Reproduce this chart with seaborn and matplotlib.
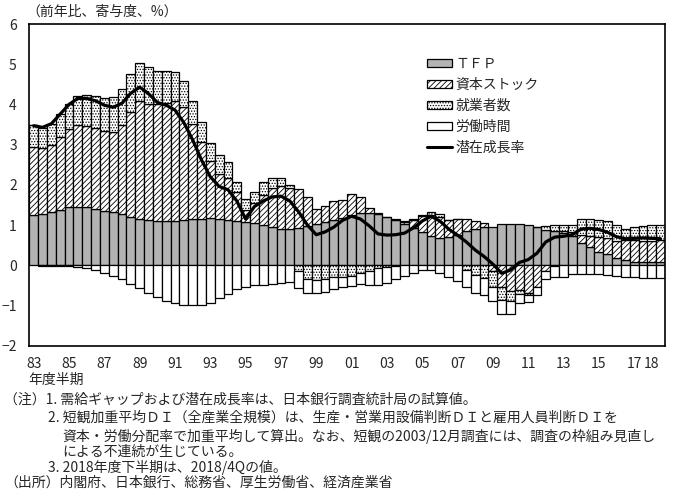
import seaborn as sns
import matplotlib.pyplot as plt
from matplotlib.patches import Patch
from matplotlib.lines import Line2D
import numpy as np

sns.set_style("white")
plt.rcParams['font.family'] = ['Noto Sans CJK JP', 'DejaVu Sans']
plt.rcParams['hatch.linewidth'] = 0.6
plt.rcParams['hatch.color'] = '#333333'

# 年度半期 1983上 ～ 2018下 (72本)
tfp = [1.24, 1.28, 1.32, 1.38, 1.44, 1.46, 1.44, 1.40, 1.36, 1.32, 1.28, 1.21,
       1.15, 1.12, 1.10, 1.10, 1.11, 1.13, 1.15, 1.16, 1.17, 1.15, 1.13, 1.10,
       1.07, 1.04, 0.99, 0.94, 0.91, 0.91, 0.93, 0.98, 1.02, 1.07, 1.12, 1.17,
       1.25, 1.29, 1.29, 1.27, 1.20, 1.12, 1.03, 0.92, 0.82, 0.72, 0.67, 0.70,
       0.75, 0.84, 0.90, 0.95, 0.95, 1.02, 1.02, 1.02, 0.99, 0.95, 0.88, 0.85,
       0.80, 0.72, 0.55, 0.46, 0.34, 0.27, 0.19, 0.13, 0.09, 0.07, 0.07, 0.07]
capital = [1.71, 1.63, 1.68, 1.81, 1.94, 2.02, 2.02, 2.02, 1.99, 2.00, 2.21, 2.61,
           2.93, 2.90, 2.90, 2.94, 2.97, 2.81, 2.37, 1.90, 1.42, 1.13, 1.03, 0.73,
           0.31, 0.50, 0.77, 0.98, 1.05, 1.02, 0.96, 0.72, 0.39, 0.40, 0.47, 0.45,
           0.52, 0.40, 0.13, 0.02, 0.01, 0.02, 0.05, 0.20, 0.40, 0.52, 0.53, 0.43,
           0.40, 0.30, 0.20, 0.09, -0.14, -0.53, -0.64, -0.61, -0.70, -0.53, -0.14, -0.03,
           0.05, 0.10, 0.20, 0.28, 0.36, 0.40, 0.41, 0.50, 0.54, 0.54, 0.54, 0.56]
employed = [0.53, 0.51, 0.51, 0.58, 0.64, 0.73, 0.77, 0.79, 0.82, 0.86, 0.90, 0.93,
            0.94, 0.91, 0.84, 0.80, 0.73, 0.64, 0.56, 0.51, 0.44, 0.45, 0.40, 0.24,
            0.26, 0.29, 0.30, 0.26, 0.22, 0.07, -0.15, -0.33, -0.37, -0.34, -0.30, -0.28,
            -0.26, -0.20, -0.13, -0.08, -0.05, -0.03, 0.03, 0.02, 0.04, 0.08, 0.07, 0.00,
            0.00, -0.12, -0.24, -0.32, -0.39, -0.33, -0.25, -0.11, -0.05, 0.00, 0.10, 0.15,
            0.15, 0.18, 0.40, 0.40, 0.42, 0.43, 0.39, 0.27, 0.31, 0.37, 0.38, 0.36]
hours = [0.00, -0.01, -0.01, -0.01, -0.02, -0.04, -0.08, -0.12, -0.20, -0.27, -0.35, -0.46,
         -0.57, -0.68, -0.78, -0.88, -0.95, -0.99, -1.00, -0.98, -0.93, -0.82, -0.71, -0.60,
         -0.53, -0.50, -0.48, -0.46, -0.43, -0.41, -0.41, -0.35, -0.31, -0.32, -0.30, -0.27,
         -0.25, -0.27, -0.35, -0.42, -0.40, -0.32, -0.27, -0.18, -0.12, -0.12, -0.20, -0.30,
         -0.38, -0.41, -0.46, -0.43, -0.36, -0.36, -0.31, -0.23, -0.17, -0.21, -0.20, -0.25,
         -0.30, -0.22, -0.22, -0.22, -0.22, -0.24, -0.26, -0.28, -0.28, -0.31, -0.32, -0.32]
potential = [3.47, 3.43, 3.52, 3.76, 4.00, 4.15, 4.15, 4.09, 3.98, 3.93, 4.03, 4.28,
             4.43, 4.27, 4.05, 3.98, 3.86, 3.55, 3.12, 2.62, 2.20, 1.96, 1.88, 1.60,
             1.15, 1.46, 1.60, 1.70, 1.72, 1.60, 1.33, 1.00, 0.76, 0.83, 0.95, 1.12,
             1.22, 1.15, 0.98, 0.78, 0.75, 0.76, 0.80, 0.93, 1.10, 1.22, 1.10, 0.90,
             0.75, 0.58, 0.38, 0.22, 0.03, -0.20, -0.12, 0.07, 0.14, 0.30, 0.58, 0.70,
             0.72, 0.76, 0.90, 0.92, 0.89, 0.82, 0.71, 0.66, 0.67, 0.68, 0.67, 0.66]

year_labels = ["83", "85", "87", "89", "91", "93", "95", "97", "99", "01",
               "03", "05", "07", "09", "11", "13", "15", "17", "18"]
label_pos = [0, 4, 8, 12, 16, 20, 24, 28, 32, 36, 40, 44, 48, 52, 56, 60, 64, 68, 70]

names = ["ＴＦＰ", "資本ストック", "就業者数", "労働時間"]
styles = [dict(color="#b3b3b3", hatch=None),
          dict(color="white", hatch="//////"),
          dict(color="white", hatch="......"),
          dict(color="white", hatch=None)]

W, H = 688, 493
fig = plt.figure(figsize=(W / 100, H / 100), dpi=100)
ax = fig.add_axes([29.3 / W, 1 - 345.7 / H, (665 - 29.3) / W, (345.7 - 24) / H])

x = np.arange(len(tfp))
pos_base = np.zeros(len(x))
neg_base = np.zeros(len(x))
for vals, st in zip([tfp, capital, employed, hours], styles):
    v = np.array(vals)
    bottom = np.where(v >= 0, pos_base, neg_base)
    ax.bar(x, v, bottom=bottom, width=1.0, color=st["color"], hatch=st["hatch"],
           edgecolor="black", linewidth=0.9, zorder=2)
    pos_base = pos_base + np.clip(v, 0, None)
    neg_base = neg_base + np.clip(v, None, 0)

sns.lineplot(x=x, y=potential, color="black", linewidth=2.3, ax=ax, zorder=3)

ax.set_xlim(-0.5, len(x) - 0.5)
ax.set_ylim(-2, 6)
ax.set_yticks(range(-2, 7))
ax.tick_params(axis="y", direction="in", length=3, pad=9, labelsize=10)
ax.set_xticks(np.arange(-0.5, len(x), 2))
ax.set_xticklabels([])
ax.tick_params(axis="x", which="major", direction="in", length=4, width=1)
ax.set_xticks(label_pos, minor=True)
ax.set_xticklabels(year_labels, minor=True)
ax.tick_params(axis="x", which="minor", length=0, pad=8, labelsize=10)
for s in ax.spines.values():
    s.set_linewidth(1.2)
    s.set_color("black")
ax.set_xlabel("")
ax.set_ylabel("")

handles = [Patch(facecolor=st["color"], hatch=st["hatch"], edgecolor="black", linewidth=0.9)
           for st in styles]
handles.append(Line2D([0], [0], color="black", linewidth=2.2))
ax.legend(handles, names + ["潜在成長率"], loc="upper left",
          bbox_to_anchor=(420 / W, 1 - 50 / H), bbox_transform=fig.transFigure,
          frameon=False, fontsize=10, handlelength=1.8, handleheight=0.55,
          handletextpad=0.25, labelspacing=0.5, borderpad=0)

def ftext(px, py, s, **kw):
    fig.text(px / W, 1 - py / H, s, va="center", ha="left", fontsize=10, **kw)

ftext(26, 12, "（前年比、寄与度、%）")
ftext(28, 380, "年度半期")
ftext(4, 400, "（注）1. 需給ギャップおよび潜在成長率は、日本銀行調査統計局の試算値。")
ftext(48, 418, "2. 短観加重平均ＤＩ（全産業全規模）は、生産・営業用設備判断ＤＩと雇用人員判断ＤＩを")
ftext(62, 436, "資本・労働分配率で加重平均して算出。なお、短観の2003/12月調査には、調査の枠組み見直し")
ftext(62, 452, "による不連続が生じている。")
ftext(48, 467, "3. 2018年度下半期は、2018/4Qの値。")
ftext(4, 483, "（出所）内閣府、日本銀行、総務省、厚生労働省、経済産業省")

fig.savefig("out.png", dpi=100)
